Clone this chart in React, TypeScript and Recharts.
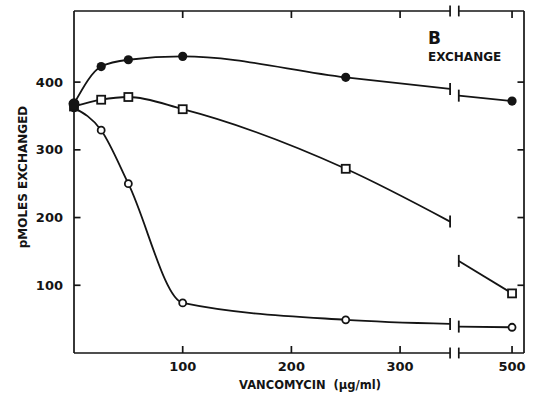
import { LineChart, Line, XAxis, YAxis, ReferenceLine, ReferenceDot } from 'recharts';

// vancomycin concentration (µg/ml) on the left part of the broken axis
const conc = [0, 25, 50, 100, 250];
const filledVals = [368, 423, 433, 438, 407];
const squareVals = [364, 374, 378, 360, 272];
const openVals = [362, 329, 250, 74, 49];

// each curve is cut where the axis breaks: [left side, right side]
const breakConc = [346, 451];
const filledBreak = [390, 380];
const squareBreak = [194, 136];
const openBreak = [43, 39];

// the lone point past the break
const lastConc = 500;
const filledLast = 372;
const squareLast = 88;
const openLast = 38;

const xTicks = [100, 200, 300, 500];
const yTicks = [100, 200, 300, 400];
const xMax = 511;
const yMax = 505;

const INK = '#141414';
const FONT = '"DejaVu Sans", sans-serif';

// the stretch 347..450 is cut out of the x axis
const GAP = 97;
const toX = (c: number) => (c > 400 ? c - GAP : c);

// inward tick length on the y sides, in data units (~6-7px)
const TICK_X = 6;

type Pt = { x: number; y: number; brk?: boolean };

function buildSeries(vals: number[], brk: number[], last: number) {
  const left: Pt[] = conc.map((c, i) => ({ x: toX(c), y: vals[i] }));
  left.push({ x: toX(breakConc[0]), y: brk[0], brk: true });
  const right: Pt[] = [
    { x: toX(breakConc[1]), y: brk[1], brk: true },
    { x: toX(lastConc), y: last },
  ];
  return { left, right };
}

const filled = buildSeries(filledVals, filledBreak, filledLast);
const squares = buildSeries(squareVals, squareBreak, squareLast);
const open = buildSeries(openVals, openBreak, openLast);

function mark(kind: string, part: string) {
  return (p: any) => {
    const { cx, cy, payload, index } = p;
    const key = `${kind}-${part}-${index}`;
    if (cx == null || cy == null) return <g key={key} />;
    if (payload.brk) {
      return <line key={key} x1={cx} x2={cx} y1={cy - 6} y2={cy + 6} stroke={INK} strokeWidth={1.8} />;
    }
    // all three curves start from the same point at 0: printed as one black blob
    const start = payload.x === 0;
    if (kind === 'filled') return <circle key={key} cx={cx} cy={cy} r={start ? 5.5 : 4.6} fill={INK} />;
    if (kind === 'open') {
      return <circle key={key} cx={cx} cy={cy} r={3.5} fill={start ? INK : '#fff'} stroke={INK} strokeWidth={1.8} />;
    }
    return (
      <rect key={key} x={cx - 4} y={cy - 4} width={8} height={8} fill={start ? INK : '#fff'} stroke={INK} strokeWidth={1.8} />
    );
  };
}

const xTickPos = xTicks.map(toX);
const labelStyle = { fill: INK, fontSize: 13, fontFamily: FONT, fontWeight: 700 };

// axis line pieces on either side of the break
const axisPieces = [
  [0, breakConc[0]],
  [breakConc[1], xMax],
];

const seg = (key: string, x1: number, y1: number, x2: number, y2: number) => (
  <ReferenceLine
    key={key}
    segment={[{ x: x1, y: y1 }, { x: x2, y: y2 }]}
    stroke={INK}
    strokeWidth={1.7}
    ifOverflow="visible"
  />
);

// vertical tick mark pointing into the plot from the bottom (dir -1) or top (dir 1) edge
const vTick = (key: string, x: number, y: number, dir: number) => (
  <ReferenceDot
    key={key}
    x={x}
    y={y}
    r={1}
    ifOverflow="visible"
    shape={(p: any) => (
      <line x1={p.cx} x2={p.cx} y1={p.cy} y2={p.cy + dir * 7} stroke={INK} strokeWidth={1.7} />
    )}
  />
);

export default function App() {
  const series = [
    { kind: 'open', s: open },
    { kind: 'square', s: squares },
    { kind: 'filled', s: filled },
  ];
  const xEnd = toX(xMax);

  return (
    <div style={{ position: 'absolute', left: 0, top: 0, width: 534, height: 395, background: '#fff' }}>
      <LineChart width={534} height={395} margin={{ top: 11, right: 10, bottom: 12, left: 0 }}>
        <XAxis
          dataKey="x"
          type="number"
          domain={[0, xEnd]}
          ticks={xTickPos}
          interval={0}
          tickFormatter={(v: number) => String(xTicks[xTickPos.indexOf(v)])}
          axisLine={false}
          tickLine={false}
          tickSize={0}
          tickMargin={9}
          tick={labelStyle}
          height={30}
        />
        <YAxis
          type="number"
          domain={[0, yMax]}
          ticks={yTicks}
          interval={0}
          axisLine={{ stroke: INK, strokeWidth: 1.7 }}
          tickLine={false}
          tickSize={0}
          tickMargin={11}
          tick={labelStyle}
          width={74}
        />

        {/* frame: top/bottom with the break gap, right side solid */}
        {[0, yMax].map((yv) => axisPieces.map(([a, b]) => seg(`ax-${yv}-${a}`, toX(a), yv, toX(b), yv)))}
        {seg('right', xEnd, 0, xEnd, yMax)}
        {[0, yMax].map((yv) => breakConc.map((c) => seg(`brk-${yv}-${c}`, toX(c), yv - 8, toX(c), yv + 8)))}

        {/* inward tick marks on all four sides */}
        {xTickPos.map((t) => vTick(`tb-${t}`, t, 0, -1))}
        {xTickPos.map((t) => vTick(`tt-${t}`, t, yMax, 1))}
        {yTicks.map((t) => seg(`tl-${t}`, 0, t, TICK_X, t))}
        {yTicks.map((t) => seg(`tr-${t}`, xEnd, t, xEnd - TICK_X, t))}

        {series.map(({ kind, s }) => [
          <Line
            key={`${kind}-l`}
            data={s.left}
            dataKey="y"
            type="monotone"
            stroke={INK}
            strokeWidth={1.8}
            dot={mark(kind, 'l')}
            activeDot={false}
            isAnimationActive={false}
          />,
          <Line
            key={`${kind}-r`}
            data={s.right}
            dataKey="y"
            type="linear"
            stroke={INK}
            strokeWidth={1.8}
            dot={mark(kind, 'r')}
            activeDot={false}
            isAnimationActive={false}
          />,
        ])}
      </LineChart>

      <div
        style={{
          position: 'absolute',
          left: 23,
          top: 177,
          transform: 'translate(-50%, -50%) rotate(-90deg)',
          whiteSpace: 'nowrap',
          fontFamily: FONT,
          fontWeight: 700,
          fontSize: 12,
          lineHeight: 1,
          color: INK,
        }}
      >
        pMOLES EXCHANGED
      </div>
      <div
        style={{
          position: 'absolute',
          left: 310,
          top: 380,
          transform: 'translateX(-50%)',
          whiteSpace: 'pre',
          fontFamily: FONT,
          fontWeight: 700,
          fontSize: 11.5,
          lineHeight: 1,
          color: INK,
        }}
      >
        {'VANCOMYCIN  (\u00b5g/ml)'}
      </div>
      <div
        style={{
          position: 'absolute',
          left: 428,
          top: 30,
          fontFamily: FONT,
          fontWeight: 700,
          fontSize: 17,
          lineHeight: 1,
          color: INK,
        }}
      >
        B
      </div>
      <div
        style={{
          position: 'absolute',
          left: 428,
          top: 51,
          fontFamily: FONT,
          fontWeight: 700,
          fontSize: 12,
          lineHeight: 1,
          color: INK,
        }}
      >
        EXCHANGE
      </div>
    </div>
  );
}
